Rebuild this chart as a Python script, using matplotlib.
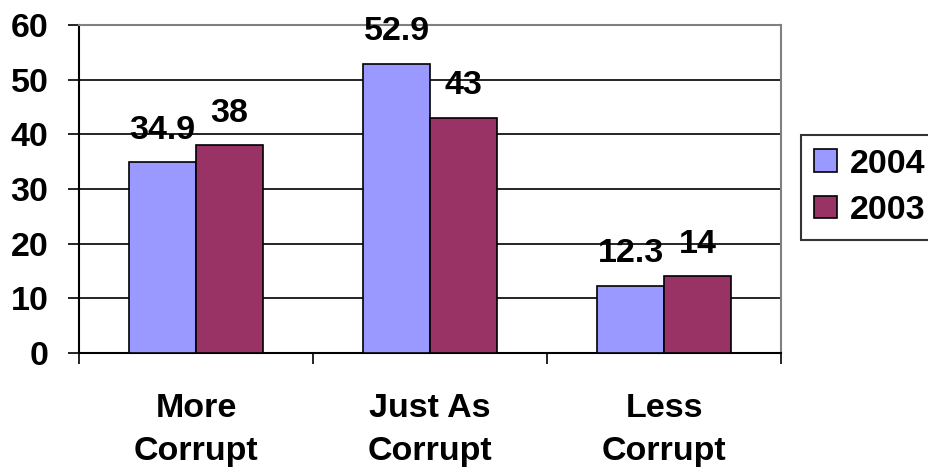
import numpy as np
import matplotlib
matplotlib.use("Agg")
import matplotlib.pyplot as plt
from matplotlib.ticker import FixedLocator

categories = ["More\nCorrupt", "Just As\nCorrupt", "Less\nCorrupt"]
vals_2004 = [34.9, 52.9, 12.3]
vals_2003 = [38, 43, 14]
labels_2004 = ["34.9", "52.9", "12.3"]
labels_2003 = ["38", "43", "14"]
yticks = [0, 10, 20, 30, 40, 50, 60]

plt.rcParams["font.family"] = ["Liberation Sans", "DejaVu Sans"]
plt.rcParams["font.weight"] = "bold"
FS = 24.5

fig = plt.figure(figsize=(9.29, 4.74), dpi=100)
ax = fig.add_axes([0.085, 0.2553, 0.7557, 0.6920])

x = np.arange(len(categories))
w = 0.286
b1 = ax.bar(x - w / 2, vals_2004, w, color="#9999FF", edgecolor="black", linewidth=1.2, label="2004", zorder=3)
b2 = ax.bar(x + w / 2, vals_2003, w, color="#993366", edgecolor="black", linewidth=1.2, label="2003", zorder=3)

# value labels above each bar
for bars, labs in [(b1, labels_2004), (b2, labels_2003)]:
    for r, t in zip(bars, labs):
        ax.annotate(t, (r.get_x() + r.get_width() / 2, r.get_height()),
                    xytext=(0, 17), textcoords="offset points", ha="center", va="baseline",
                    fontsize=FS, fontweight="bold", clip_on=False, annotation_clip=False, zorder=5)

ax.set_xlim(-0.5, 2.5)
ax.set_ylim(0, 60)
ax.set_yticks(yticks)
for yv in yticks[1:-1]:
    ax.axhline(yv, color="black", linewidth=1.2, zorder=1)
ax.tick_params(axis="y", labelsize=FS, length=8, width=1.2, pad=14)
ax.set_xticks(x)
ax.set_xticklabels(categories, fontsize=FS, fontweight="bold", linespacing=1.5)
ax.tick_params(axis="x", which="major", length=0, pad=29)
ax.xaxis.set_minor_locator(FixedLocator([-0.5, 0.5, 1.5, 2.5]))
ax.tick_params(axis="x", which="minor", length=8, width=1.2, direction="out")
for lab in ax.get_yticklabels():
    lab.set_fontweight("bold")

ax.spines["left"].set_color("black")
ax.spines["left"].set_linewidth(1.5)
ax.spines["bottom"].set_color("black")
ax.spines["bottom"].set_linewidth(1.5)
ax.spines["top"].set_color("gray")
ax.spines["top"].set_linewidth(1.5)
ax.spines["right"].set_color("gray")
ax.spines["right"].set_linewidth(1.5)

leg = fig.legend(handles=[b1, b2], loc="upper left", bbox_to_anchor=(0.862, 0.715),
                 fontsize=FS, frameon=True, fancybox=False, handlelength=0.65, handleheight=0.65,
                 handletextpad=0.4, labelspacing=0.45, borderpad=0.4, borderaxespad=0)
leg.get_frame().set_edgecolor("black")
leg.get_frame().set_linewidth(1.5)
for t in leg.get_texts():
    t.set_fontweight("bold")

fig.savefig("out.png", dpi=100)
